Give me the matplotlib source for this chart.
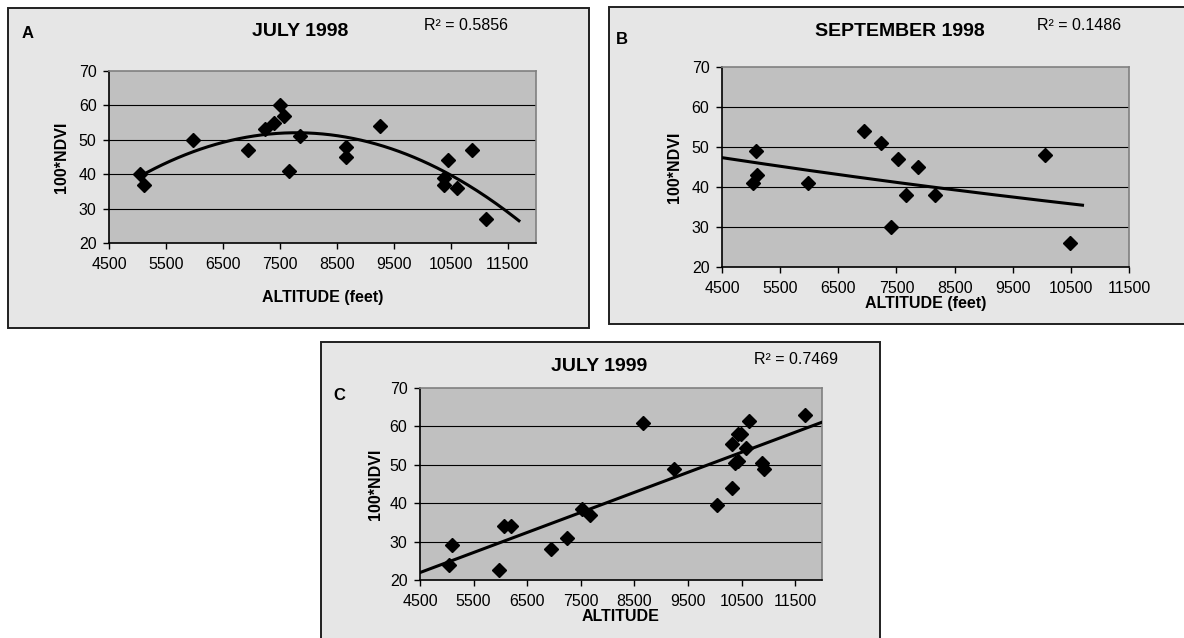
import matplotlib
matplotlib.use("Agg")
import matplotlib.pyplot as plt
import numpy as np
from matplotlib.patches import Rectangle

plt.rcParams.update({
    "font.family": ["Liberation Sans", "DejaVu Sans"],
    "figure.dpi": 100,
})

W, H = 1184, 638

# panel A - July 1998
alt_a = [5040, 5110, 5975, 6950, 7235, 7405, 7510, 7565, 7665, 7860,
         8660, 8660, 9260, 10380, 10380, 10455, 10615, 10880, 11130]
ndvi_a = [40, 37, 50, 47, 53, 55, 60, 57, 41, 51,
          48, 45, 54, 39, 37, 44, 36, 47, 27]
trend_a_span = [5040, 11700]

# panel B - September 1998
alt_b = [5040, 5080, 5100, 5975, 6950, 7235, 7520, 7415, 7670, 7875, 8160, 10055, 10480]
ndvi_b = [41, 49, 43, 41, 54, 51, 47, 30, 38, 45, 38, 48, 26]
trend_b_span = [4500, 10700]

# panel C - July 1999
alt_c = [5050, 5100, 5980, 6075, 6200, 6950, 7235, 7515, 7680, 8665, 9235,
         10045, 10315, 10315, 10385, 10440, 10440, 10490, 10575, 10640, 10880, 10910, 11685]
ndvi_c = [24, 29, 22.5, 34, 34, 28, 31, 38.5, 37, 61, 49,
          39.5, 55.5, 44, 50.5, 51, 58, 58, 54.5, 61.5, 50.5, 49, 63]
trend_c_span = [4500, 12000]

x_ticks = [4500, 5500, 6500, 7500, 8500, 9500, 10500, 11500]
y_ticks = [20, 30, 40, 50, 60, 70]

BG = "#e6e6e6"
PLOT_BG = "#c0c0c0"


def fx(px):
    return px / W


def fy(py):
    return 1 - py / H


def ax_at(fig, left, top, right, bottom):
    return fig.add_axes([fx(left), fy(bottom), fx(right) - fx(left), (bottom - top) / H], zorder=2)


def style_axis(ax, xmax):
    ax.set_facecolor(PLOT_BG)
    ax.set_xlim(4500, xmax)
    ax.set_ylim(20, 70)
    ax.set_xticks(x_ticks)
    ax.set_yticks(y_ticks)
    ax.tick_params(direction="out", length=4, width=1, labelsize=11.5, colors="black")
    ax.tick_params(axis="x", pad=6)
    ax.tick_params(axis="y", pad=5)
    for g in [30, 40, 50, 60]:
        ax.axhline(g, color="black", lw=0.8, zorder=1)
    for s in ["left", "bottom"]:
        ax.spines[s].set_color("black")
        ax.spines[s].set_linewidth(1.2)
    for s in ["top", "right"]:
        ax.spines[s].set_color("#808080")
        ax.spines[s].set_linewidth(1.2)


def draw_points(ax, xs, ys):
    ax.plot(xs, ys, linestyle="none", marker="D", ms=7, color="black", zorder=3, clip_on=False)


fig = plt.figure(figsize=(W / 100, H / 100), dpi=100)
fig.patch.set_facecolor("white")

bg = fig.add_axes([0, 0, 1, 1], zorder=0)
bg.set_xlim(0, W)
bg.set_ylim(H, 0)
bg.set_axis_off()
for (l, t, r, b) in [(8, 8, 589, 328), (609, 7, 1195, 324), (321, 342, 880, 650)]:
    bg.add_patch(Rectangle((l, t), r - l, b - t, facecolor=BG, edgecolor="#202020", lw=1.4, clip_on=False))

# A
ax = ax_at(fig, 109, 71, 536, 243)
style_axis(ax, 12000)
draw_points(ax, alt_a, ndvi_a)
coef = np.polyfit(alt_a, ndvi_a, 2)
xs = np.linspace(trend_a_span[0], trend_a_span[1], 200)
ax.plot(xs, np.polyval(coef, xs), color="black", lw=2.2, zorder=4)
ax.set_ylabel("100*NDVI", fontsize=11.5, fontweight="bold", labelpad=7)
ax.set_xlabel("ALTITUDE (feet)", fontsize=11.5, fontweight="bold", labelpad=13)
fig.text(fx(300), fy(32), "JULY 1998", ha="center", va="center", fontsize=14, fontweight="bold")
fig.text(fx(22), fy(33), "A", ha="left", va="center", fontsize=12, fontweight="bold")
fig.text(fx(424), fy(25), "R² = 0.5856", ha="left", va="center", fontsize=11.5)

# B
ax = ax_at(fig, 722, 67, 1129, 267)
style_axis(ax, 11500)
draw_points(ax, alt_b, ndvi_b)
coef = np.polyfit(alt_b, np.log(ndvi_b), 1)
xs = np.linspace(trend_b_span[0], trend_b_span[1], 200)
ax.plot(xs, np.exp(np.polyval(coef, xs)), color="black", lw=2.2, zorder=4)
ax.set_ylabel("100*NDVI", fontsize=11.5, fontweight="bold", labelpad=7)
ax.set_xlabel("ALTITUDE (feet)", fontsize=11.5, fontweight="bold", labelpad=0)
fig.text(fx(900), fy(31), "SEPTEMBER 1998", ha="center", va="center", fontsize=14, fontweight="bold")
fig.text(fx(616), fy(40), "B", ha="left", va="center", fontsize=12, fontweight="bold")
fig.text(fx(1037), fy(25), "R² = 0.1486", ha="left", va="center", fontsize=11.5)

# C
ax = ax_at(fig, 420, 388, 822, 580)
style_axis(ax, 12000)
draw_points(ax, alt_c, ndvi_c)
coef = np.polyfit(alt_c, ndvi_c, 1)
xs = np.array(trend_c_span, dtype=float)
ax.plot(xs, np.polyval(coef, xs), color="black", lw=2.2, zorder=4)
ax.set_ylabel("100*NDVI", fontsize=11.5, fontweight="bold", labelpad=5)
ax.set_xlabel("ALTITUDE", fontsize=11.5, fontweight="bold", labelpad=0)
fig.text(fx(599), fy(367), "JULY 1999", ha="center", va="center", fontsize=14, fontweight="bold")
fig.text(fx(333), fy(395), "C", ha="left", va="center", fontsize=12, fontweight="bold")
fig.text(fx(754), fy(360), "R² = 0.7469", ha="left", va="center", fontsize=11.5)

fig.savefig("out.png", dpi=100, facecolor="white")
